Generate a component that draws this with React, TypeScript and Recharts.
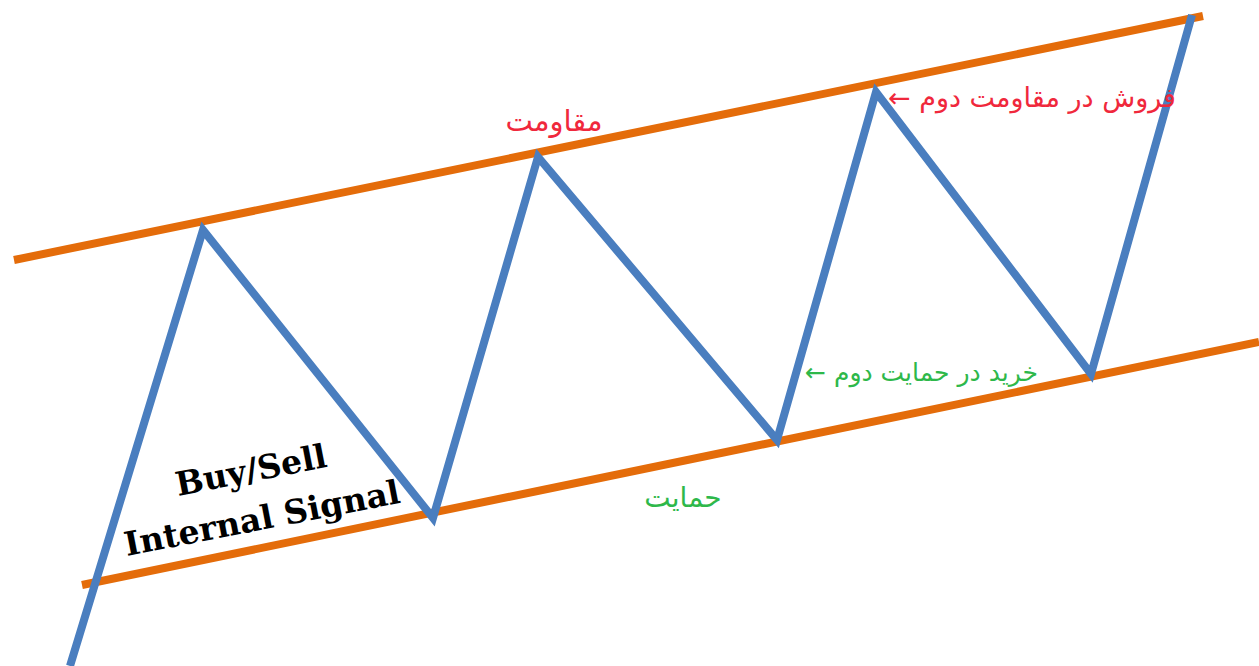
import React from "react";
import { LineChart, Line, XAxis, YAxis, ReferenceDot } from "recharts";

// price path and channel edges (x: time, y: price)
const zigzag = [
  { t: 70, p: 0 },
  { t: 203, p: 436 },
  { t: 433, p: 148 },
  { t: 538, p: 509 },
  { t: 777, p: 226 },
  { t: 876, p: 574 },
  { t: 1091, p: 292 },
  { t: 1192, p: 651 },
];

const resistance = [
  { t: 14, p: 406 },
  { t: 1203, p: 650 },
];

const support = [
  { t: 82, p: 81 },
  { t: 1259, p: 324 },
];

const notes = [
  { t: 554, p: 545, text: "مقاومت", color: "#F0283C", size: 29, anchor: "middle" },
  { t: 888, p: 569, text: "← فروش در مقاومت دوم", color: "#F0283C", size: 27, anchor: "start" },
  { t: 805, p: 294, text: "← خرید در حمایت دوم", color: "#2EB84A", size: 25, anchor: "start" },
  { t: 683, p: 169, text: "حمایت", color: "#2EB84A", size: 28, anchor: "middle" },
];

const signalLines = [
  { t: 251, p: 196, text: "Buy/Sell" },
  { t: 262, p: 148, text: "Internal Signal" },
];

const W = 1259;
const H = 666;

const App: React.FC = () => {
  return (
    <div style={{ position: "absolute", left: 0, top: 0, background: "#fff" }}>
      <LineChart width={W} height={H} margin={{ top: 0, right: 0, bottom: 0, left: 0 }}>
        <XAxis type="number" dataKey="t" domain={[0, W]} hide allowDataOverflow />
        <YAxis type="number" dataKey="p" domain={[0, H]} hide allowDataOverflow />
        <Line
          data={resistance}
          dataKey="p"
          stroke="#E46C0A"
          strokeWidth={8}
          dot={false}
          activeDot={false}
          isAnimationActive={false}
        />
        <Line
          data={support}
          dataKey="p"
          stroke="#E46C0A"
          strokeWidth={8}
          dot={false}
          activeDot={false}
          isAnimationActive={false}
        />
        <Line
          data={zigzag}
          dataKey="p"
          stroke="#4A7EBF"
          strokeWidth={8}
          dot={false}
          activeDot={false}
          isAnimationActive={false}
        />
        {notes.map((n, i) => (
          <ReferenceDot
            key={"n" + i}
            x={n.t}
            y={n.p}
            r={0}
            shape={(props: any) => (
              <text
                x={props.cx}
                y={props.cy}
                textAnchor={n.anchor as any}
                dominantBaseline="central"
                fill={n.color}
                fontSize={n.size}
                fontFamily="DejaVu Sans"
              >
                {n.text}
              </text>
            )}
          />
        ))}
        {signalLines.map((s, i) => (
          <ReferenceDot
            key={"s" + i}
            x={s.t}
            y={s.p}
            r={0}
            shape={(props: any) => (
              <text
                x={props.cx}
                y={props.cy}
                textAnchor="middle"
                dominantBaseline="central"
                fill="#000"
                fontSize={33}
                fontWeight="bold"
                fontFamily="DejaVu Serif"
                transform={`rotate(-11 ${props.cx} ${props.cy})`}
              >
                {s.text}
              </text>
            )}
          />
        ))}
      </LineChart>
    </div>
  );
};

export default App;
